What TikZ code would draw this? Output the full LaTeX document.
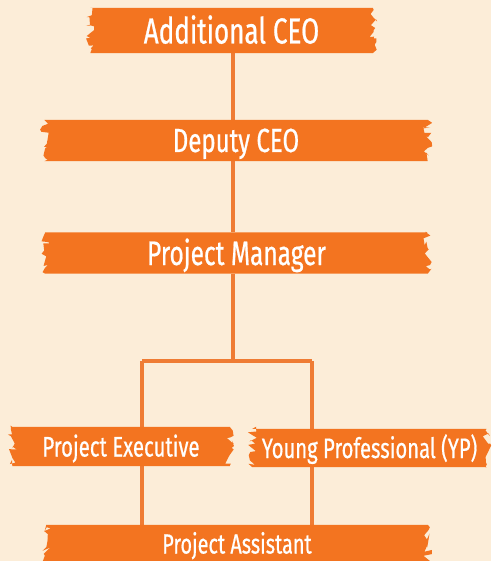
\documentclass[tikz,border=0pt]{standalone}
\usepackage{fontspec}
\setmainfont{Fira Sans}[FakeStretch=0.72, FakeBold=0.6]
\usetikzlibrary{decorations.pathmorphing}
\definecolor{paper}{HTML}{FCEDD8}
\definecolor{brush}{HTML}{F37420}
\definecolor{wire}{HTML}{EF7C34}
\pgfdeclarelayer{paperlayer}
\pgfdeclarelayer{lines}
\pgfdeclarelayer{boxes}
\pgfsetlayers{paperlayer,lines,boxes,main}
\tikzset{
  role/.style={rectangle, inner sep=0pt, text=white, text depth=0pt},
  wire/.style={draw=wire, line width=4.4pt},
  brushfill/.style={fill=brush, decoration={random steps, segment length=2.6pt, amplitude=4.5pt}}
}
\newcommand\brushbox[1]{%
  \fill[brushfill] (#1.north west) -- (#1.north east) decorate{-- (#1.south east)}
     -- (#1.south west) decorate{-- (#1.north west)} -- cycle;}
\begin{document}
\begin{tikzpicture}[x=1pt,y=-1pt]
\pgfmathsetseed{7}
\begin{pgfonlayer}{paperlayer}
\fill[paper] (0,0) rectangle (491,561);
\end{pgfonlayer}
\useasboundingbox (0,0) rectangle (491,561);
\node[role, minimum width=282pt, minimum height=45pt, text height=26pt, font=\fontsize{36.2}{40}\selectfont] (ceo) at (231.5,30.5) {Additional CEO};
\node[role, minimum width=383pt, minimum height=41pt, text height=23pt, font=\fontsize{33.4}{36}\selectfont] (dep) at (236,140.5) {Deputy CEO};
\node[role, minimum width=382pt, minimum height=41pt, text height=24pt, font=\fontsize{34}{39}\selectfont] (pm) at (236.5,253) {Project Manager};
\node[role, minimum width=217pt, minimum height=39pt, text height=20pt, font=\fontsize{28.3}{32}\selectfont] (pe) at (121,446.5) {Project Executive};
\node[role, minimum width=234pt, minimum height=38pt, text height=20pt, font=\fontsize{28.1}{32}\selectfont] (yp) at (369.5,448) {Young Professional (YP)};
\node[role, minimum width=381pt, minimum height=38pt, text height=19pt, font=\fontsize{27.6}{30}\selectfont] (pa) at (237,544) {Project Assistant};
\coordinate (spine) at (233,0);
\coordinate (split) at (233,361);
\coordinate (lft) at (142,361);
\coordinate (rgt) at (312,361);
\begin{pgfonlayer}{boxes}
\brushbox{ceo}\brushbox{dep}\brushbox{pm}\brushbox{pe}\brushbox{yp}\brushbox{pa}
\end{pgfonlayer}
\begin{pgfonlayer}{lines}
\draw[wire] (spine |- ceo.south) -- (spine |- dep.north);
\draw[wire] (spine |- dep.south) -- (spine |- pm.north);
\draw[wire] (spine |- pm.south) -- (split);
\draw[wire, line width=4pt] (lft) -- (rgt);
\draw[wire, line width=4pt] (lft) -- (lft |- pe.north);
\draw[wire, line width=4pt] (rgt) -- (rgt |- yp.north);
\draw[wire, line width=4pt] (lft |- pe.south) -- (lft |- pa.north);
\draw[wire, line width=4pt] (rgt |- yp.south) -- (rgt |- pa.north);
\end{pgfonlayer}
\end{tikzpicture}
\end{document}
